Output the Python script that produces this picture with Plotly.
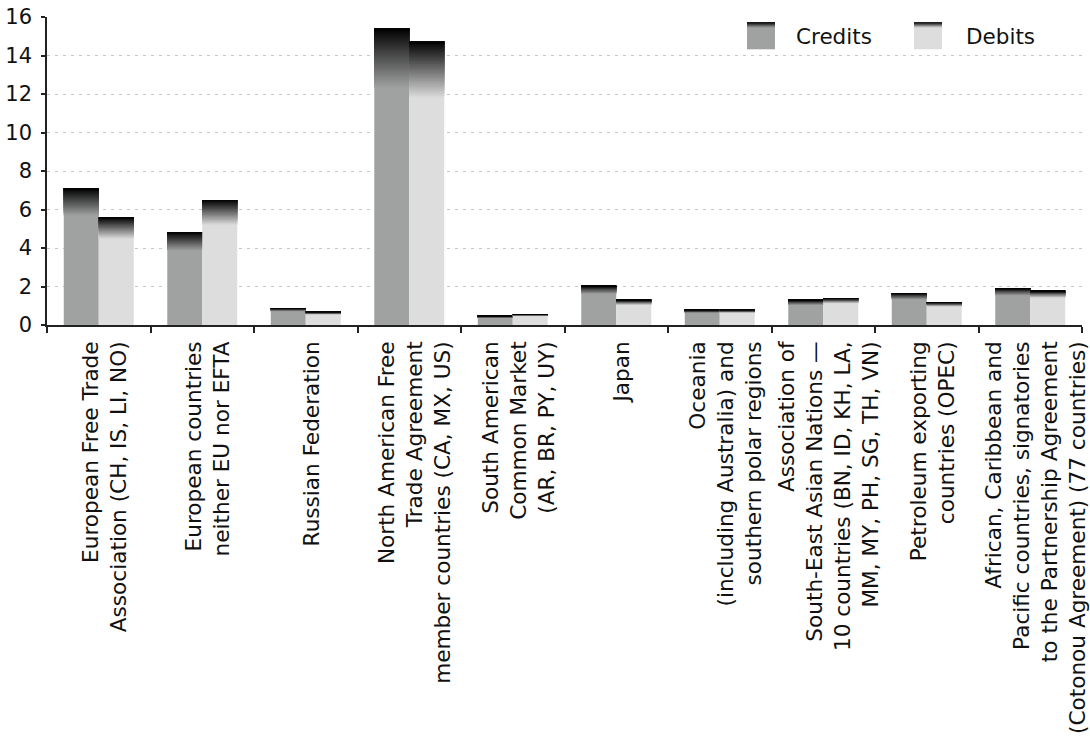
import plotly.graph_objects as go

categories = [
    "European Free Trade<br>Association (CH, IS, LI, NO)",
    "European countries<br>neither EU nor EFTA",
    "Russian Federation",
    "North American Free<br>Trade Agreement<br>member countries (CA, MX, US)",
    "South American<br>Common Market<br>(AR, BR, PY, UY)",
    "Japan",
    "Oceania<br>(including Australia) and<br>southern polar regions",
    "Association of<br>South-East Asian Nations —<br>10 countries (BN, ID, KH, LA,<br>MM, MY, PH, SG, TH, VN)",
    "Petroleum exporting<br>countries (OPEC)",
    "African, Caribbean and<br>Pacific countries, signatories<br>to the Partnership Agreement<br>(Cotonou Agreement) (77 countries)",
]
credits = [7.10, 4.83, 0.88, 15.41, 0.47, 2.03, 0.79, 1.30, 1.66, 1.92]
debits = [5.59, 6.49, 0.68, 14.74, 0.57, 1.30, 0.79, 1.40, 1.19, 1.77]
series_names = ["Credits", "Debits"]
y_ticks = [0, 2, 4, 6, 8, 10, 12, 14, 16]

FONT = "DejaVu Sans"
FS = 21
FSX = 21.6
colors = {"Credits": (160, 162, 161), "Debits": (221, 221, 221)}
N_STEPS = 30
GRAD_FRAC = 0.2

fig = go.Figure()


def rgb(c):
    return "rgb(%d,%d,%d)" % tuple(int(round(v)) for v in c)


for name, vals in zip(series_names, [credits, debits]):
    base_col = colors[name]
    fig.add_trace(go.Bar(
        x=categories, y=vals, base=[0] * len(vals), name=name,
        offsetgroup=name, marker=dict(color=rgb(base_col), line=dict(width=0)),
        showlegend=False, hoverinfo="skip",
    ))
    # gradient: each slice runs from its start up to the bar top; later slices overlay earlier ones
    for i in range(N_STEPS):
        t = (i + 0.5) / N_STEPS  # 0 at bottom of gradient zone, 1 at top
        col = tuple(b * (1 - t) for b in base_col)
        seg_base = [v * (1 - GRAD_FRAC) + v * GRAD_FRAC * i / N_STEPS for v in vals]
        seg_h = [v - b for v, b in zip(vals, seg_base)]
        fig.add_trace(go.Bar(
            x=categories, y=seg_h, base=seg_base, name=name,
            offsetgroup=name, marker=dict(color=rgb(col), line=dict(width=0)),
            showlegend=False, hoverinfo="skip",
        ))

# custom legend (swatches with gradient top)
shapes = []
annotations = []
legend_items = [("Credits", 0.6763, 0.7034, 0.7217), ("Debits", 0.8377, 0.8647, 0.8860)]
y0s, y1s = 0.8951, 0.9828
for name, x0, x1, tx in legend_items:
    base_col = colors[name]
    shapes.append(dict(type="rect", xref="paper", yref="paper", x0=x0, x1=x1,
                       y0=y0s, y1=y1s, fillcolor=rgb(base_col), line=dict(width=0), layer="above"))
    nb = 6
    gh = (y1s - y0s) * 0.2
    for i in range(nb):
        t = (i + 0.5) / nb
        col = tuple(b * (1 - t) for b in base_col)
        shapes.append(dict(type="rect", xref="paper", yref="paper", x0=x0, x1=x1,
                           y0=y1s - gh + gh * i / nb, y1=y1s,
                           fillcolor=rgb(col), line=dict(width=0), layer="above"))
    annotations.append(dict(text=name, xref="paper", yref="paper", x=tx, y=0.936,
                            xanchor="left", yanchor="middle", showarrow=False,
                            font=dict(family=FONT, size=21.5, color="#111")))

fig.update_layout(
    width=1090, height=736,
    margin=dict(l=47, r=8, t=17, b=411),
    paper_bgcolor="white", plot_bgcolor="white",
    barmode="group", bargap=0.324, bargroupgap=0,
    font=dict(family=FONT, size=FS, color="#111"),
    shapes=shapes, annotations=annotations,
    showlegend=False,
    xaxis=dict(
        type="category", tickangle=-90, tickson="boundaries", automargin=False,
        ticks="outside", ticklen=6, tickwidth=1.5, tickcolor="#222",
        showline=True, linecolor="#222", linewidth=1.5,
        showgrid=False, ticklabelstandoff=6, ticklabelshift=6,
        tickfont=dict(family=FONT, size=FSX, color="#111"),
    ),
    yaxis=dict(
        range=[0, 16], tickvals=y_ticks, ticks="outside", ticklen=4, automargin=False,
        tickwidth=1.5, tickcolor="#222",
        showline=True, linecolor="#222", linewidth=1.5,
        showgrid=True, gridcolor="#c8c8c8", griddash="3px,5px", gridwidth=1,
        zeroline=False, ticklabelstandoff=5,
        tickfont=dict(family=FONT, size=FS, color="#111"),
    ),
)

fig.write_html("out.html")
